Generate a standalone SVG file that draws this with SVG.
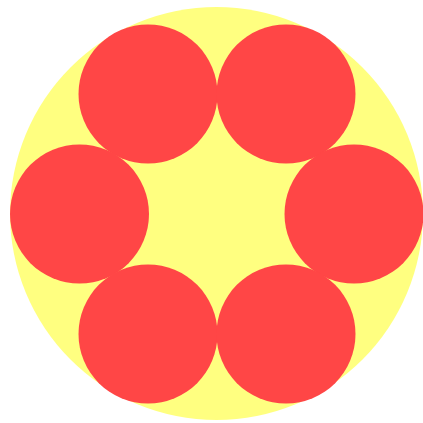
<svg xmlns="http://www.w3.org/2000/svg" width="423" height="423" viewBox="0 0 423 423">
<style>
.outer{fill:#ffff80}
.inner{fill:#ff4646}
</style>
<rect width="423" height="423" fill="#ffffff"/>
<g id="outer"><circle class="outer" cx="216.5" cy="213.5" r="206.5"/></g>
<g id="c1"><circle class="inner" cx="148" cy="94" r="69.5"/></g>
<g id="c2"><circle class="inner" cx="286" cy="94" r="69.5"/></g>
<g id="c3"><circle class="inner" cx="79.5" cy="214" r="69.5"/></g>
<g id="c4"><circle class="inner" cx="354" cy="214" r="69.5"/></g>
<g id="c5"><circle class="inner" cx="148" cy="334" r="69.5"/></g>
<g id="c6"><circle class="inner" cx="286" cy="334" r="69.5"/></g>
</svg>
